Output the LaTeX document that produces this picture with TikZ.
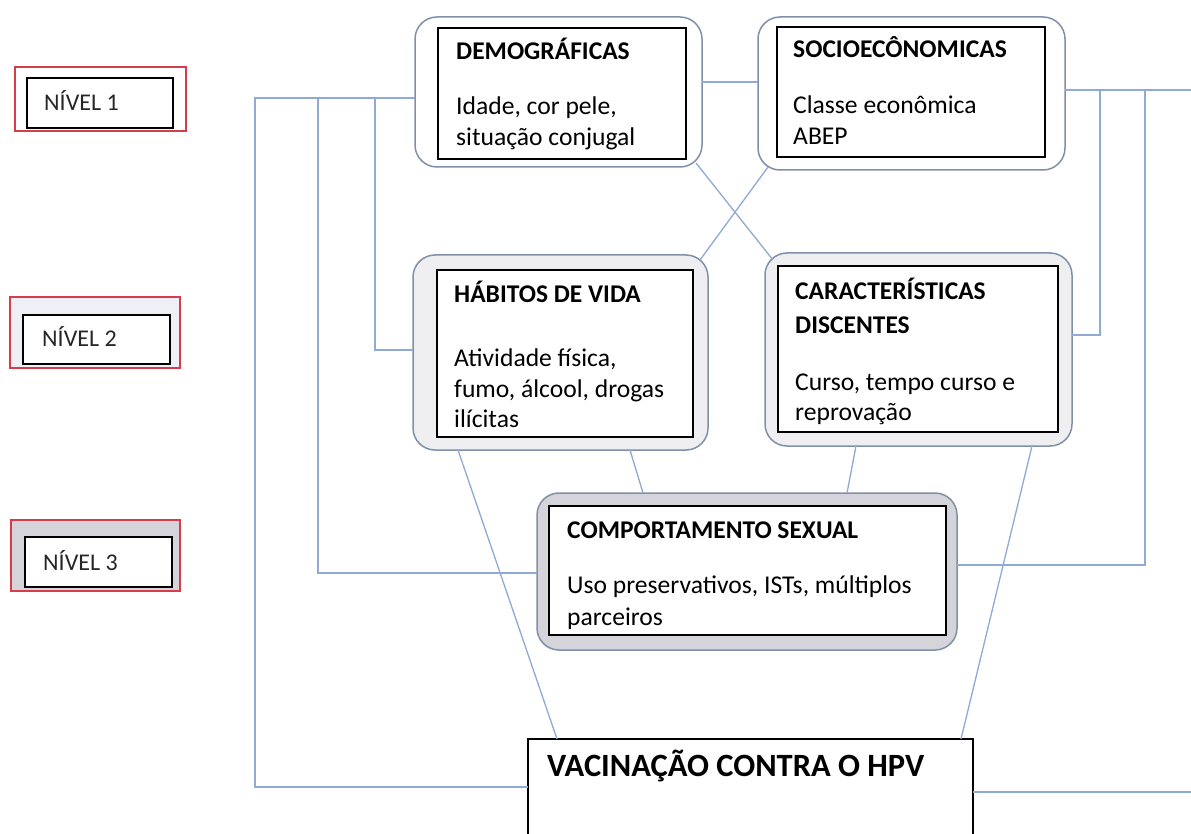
\documentclass[tikz,border=0pt]{standalone}
\usepackage{fontspec}
\setmainfont{Carlito}
\usetikzlibrary{calc}
\definecolor{linkc}{RGB}{143,170,212}
\definecolor{obord}{RGB}{128,144,168}
\definecolor{lvtwo}{RGB}{239,239,242}
\definecolor{lvthree}{RGB}{212,212,218}
\definecolor{nivtwo}{RGB}{238,240,246}
\definecolor{redb}{RGB}{214,60,76}
\begin{document}
\begin{tikzpicture}[x=1pt,y=-1pt,
  outerbox/.style={draw=obord, line width=1.5pt, rounded corners=22pt, inner sep=0pt, outer sep=0pt},
  innerbox/.style={draw=black, line width=1.2pt, fill=white, inner sep=0pt, outer sep=0pt},
  redbox/.style={draw=redb, line width=1.2pt, inner sep=0pt, outer sep=0pt},
  ttl/.style={font=\bfseries\fontsize{25.5}{30}\selectfont, anchor=base west, inner sep=0pt},
  bdy/.style={font=\fontsize{25.6}{31}\selectfont, anchor=base west, inner sep=0pt},
  nivtxt/.style={font=\fontsize{24}{28}\selectfont, anchor=base west, inner sep=0pt, text=black!85},
  vactxt/.style={font=\bfseries\fontsize{32.5}{38}\selectfont, anchor=base west, inner sep=0pt},
  link/.style={draw=linkc, line width=1.3pt}
]
\useasboundingbox (0,0) rectangle (1191,834);
\clip (0,0) rectangle (1191,834);
\fill[white] (0,0) rectangle (1191,834);

% level boxes
\node[redbox, fill=white, minimum width=171pt, minimum height=64pt] (n1) at (100.5,99) {};
\node[innerbox, minimum width=146pt, minimum height=50pt] (n1in) at (100,103) {};
\node[nivtxt] (n1t) at (44,111) {NÍVEL 1};
\node[redbox, fill=nivtwo, minimum width=170pt, minimum height=71pt] (n2) at (95,332.5) {};
\node[innerbox, minimum width=147pt, minimum height=49pt] (n2in) at (96.5,339.5) {};
\node[nivtxt] (n2t) at (42,346) {NÍVEL 2};
\node[redbox, fill=lvthree, minimum width=169pt, minimum height=71pt] (n3) at (95.5,555.5) {};
\node[innerbox, minimum width=147pt, minimum height=50pt] (n3in) at (98.5,562) {};
\node[nivtxt] (n3t) at (43,570) {NÍVEL 3};

% DEMOGRAFICAS
\node[outerbox, fill=white, minimum width=287pt, minimum height=150pt] (demo) at (558.5,92) {};
\node[innerbox, minimum width=248pt, minimum height=131pt] (demoin) at (562,93.5) {};
\node[ttl] (demot) at (456,60) {DEMOGRÁFICAS};
\node[bdy] (demob1) at (456,115) {Idade, cor pele,};
\node[bdy] (demob2) at (456,146) {situação conjugal};

% SOCIOECONOMICAS
\node[outerbox, fill=white, minimum width=307pt, minimum height=153pt] (socio) at (911.5,93.5) {};
\node[innerbox, minimum width=268pt, minimum height=130pt] (socioin) at (911,92) {};
\node[ttl] (sociot) at (793,58) {SOCIOECÔNOMICAS};
\node[bdy] (sociob1) at (793,114) {Classe econômica};
\node[bdy] (sociob2) at (793,145) {ABEP};

% HABITOS
\node[outerbox, fill=lvtwo, minimum width=295pt, minimum height=195pt] (hab) at (560.5,352.5) {};
\node[innerbox, minimum width=256pt, minimum height=167pt] (habin) at (565,353.5) {};
\node[ttl] (habt) at (454,302) {HÁBITOS DE VIDA};
\node[bdy] (habb1) at (454,366) {Atividade física,};
\node[bdy] (habb2) at (454,397) {fumo, álcool, drogas};
\node[bdy] (habb3) at (454,427) {ilícitas};

% CARACTERISTICAS
\node[outerbox, fill=lvtwo, minimum width=307pt, minimum height=193pt] (car) at (918.5,349.5) {};
\node[innerbox, minimum width=280pt, minimum height=166pt] (carin) at (918,349) {};
\node[ttl] (cart1) at (795,300) {CARACTERÍSTICAS};
\node[ttl] (cart2) at (795,333) {DISCENTES};
\node[bdy] (carb1) at (795,390) {Curso, tempo curso e};
\node[bdy] (carb2) at (795,420) {reprovação};

% COMPORTAMENTO
\node[outerbox, fill=lvthree, minimum width=420pt, minimum height=157pt] (comp) at (747,571.5) {};
\node[innerbox, minimum width=397pt, minimum height=129pt] (compin) at (747.5,570.5) {};
\node[ttl] (compt) at (567,538) {COMPORTAMENTO SEXUAL};
\node[bdy] (compb1) at (567,593) {Uso preservativos, ISTs, múltiplos};
\node[bdy] (compb2) at (567,625) {parceiros};

% VACINACAO
\node[draw=black, line width=1.5pt, fill=white, inner sep=0pt, outer sep=0pt, minimum width=445pt, minimum height=119pt] (vac) at (750.5,798.5) {};
\node[vactxt] (vact) at (547,776) {VACINAÇÃO CONTRA O HPV};

% helper coordinates
\coordinate (L1) at (255,98);
\coordinate (L2) at (318,98);
\coordinate (L3) at (375,98);
\coordinate (yH) at (0,350);
\coordinate (yC) at (0,573);
\coordinate (yV) at (0,787);
\coordinate (yDS) at (0,82);
\coordinate (R1) at (1100,90);
\coordinate (R2) at (1145,90);
\coordinate (Redge) at (1191,90);
\coordinate (yCr) at (0,335);
\coordinate (yCpr) at (0,565);
\coordinate (Vedge) at (1191,792);

% connectors
\draw[link] (demo.east |- yDS) -- (socio.west |- yDS);
\draw[link] (demo.west |- L1) -- (L1) -- (L1 |- yV) -- (vac.west |- yV);
\draw[link] (L2) -- (L2 |- yC) -- (comp.west |- yC);
\draw[link] (L3) -- (L3 |- yH) -- (hab.west |- yH);
\draw[link] (socio.east |- Redge) -- (Redge);
\draw[link] (R1) -- (R1 |- yCr) -- (car.east |- yCr);
\draw[link] (R2) -- (R2 |- yCpr) -- (comp.east |- yCpr);
\draw[link] (vac.east |- Vedge) -- (Vedge);
\draw[link] ($(demo.south east)+(-6,-4)$) -- ($(car.north west)+(8,7)$);
\draw[link] ($(socio.south west)+(10,-3)$) -- ($(hab.north east)+(-8,5)$);
\draw[link] ($(hab.south)+(69.5,0)$) -- ($(comp.north)+(-104,0)$);
\draw[link] ($(car.south)+(-62.5,0)$) -- ($(comp.north)+(100,0)$);
\draw[link] ($(hab.south)+(-102.5,0)$) -- ($(vac.north)+(-193.5,0)$);
\draw[link] ($(car.south)+(113.5,0)$) -- ($(vac.north)+(210.5,0)$);
\end{tikzpicture}
\end{document}
